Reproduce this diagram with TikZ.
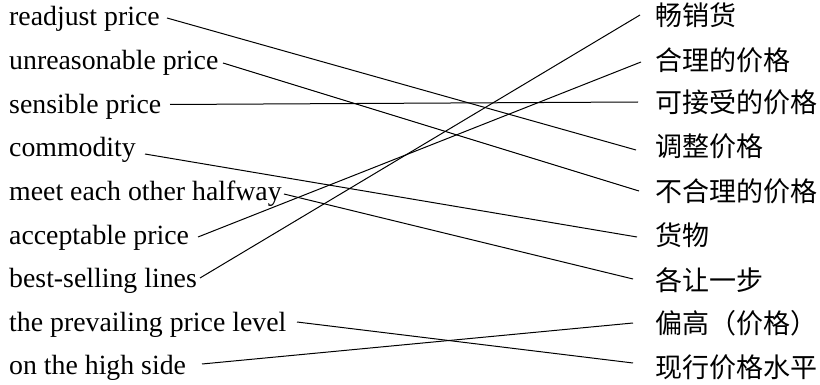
\documentclass[tikz,border=0pt]{standalone}
\usepackage{fontspec}
\setmainfont{Liberation Serif}
\newfontfamily\cjk{Noto Sans CJK SC}
\begin{document}
\begin{tikzpicture}[x=1pt,y=-1pt,
  en/.style={anchor=base west,inner sep=0pt,font=\fontsize{27.8}{30}\selectfont},
  zh/.style={anchor=base west,inner sep=0pt,font=\cjk\fontsize{27}{30}\selectfont},
  link/.style={line width=1pt}]
\useasboundingbox (0,0) rectangle (820,385);
% English terms
\node[en] (e1) at (9,26)    {readjust price};
\node[en] (e2) at (9,69.6)  {unreasonable price};
\node[en] (e3) at (9,113.2) {sensible price};
\node[en] (e4) at (9,156.8) {commodity};
\node[en] (e5) at (9,200.4) {meet each other halfway};
\node[en] (e6) at (9,244)   {acceptable price};
\node[en] (e7) at (9,287.6) {best-selling lines};
\node[en] (e8) at (9,331.2) {the prevailing price level};
\node[en] (e9) at (9,374.8) {on the high side};
% Chinese terms
\node[zh] (c1) at (655,26)  {畅销货};
\node[zh] (c2) at (655,71)  {合理的价格};
\node[zh] (c3) at (655,113) {可接受的价格};
\node[zh] (c4) at (655,157) {调整价格};
\node[zh] (c5) at (655,202) {不合理的价格};
\node[zh] (c6) at (655,245) {货物};
\node[zh] (c7) at (655,290) {各让一步};
\node[zh] (c8) at (655,333) {偏高（价格）};
\node[zh] (c9) at (655,377) {现行价格水平};
% line ends beside the English terms
\coordinate (p1) at (167,18);
\coordinate (p2) at (223,63);
\coordinate (p3) at (170,104.5);
\coordinate (p4) at (145,154);
\coordinate (p5) at (284,194);
\coordinate (p6) at (198,237);
\coordinate (p7) at (200,278);
\coordinate (p8) at (297,322);
\coordinate (p9) at (202,364);
% line ends beside the Chinese terms
\coordinate (q1) at (640,15);
\coordinate (q2) at (641,62);
\coordinate (q3) at (638,102);
\coordinate (q4) at (636,150);
\coordinate (q5) at (639,191);
\coordinate (q6) at (637,237);
\coordinate (q7) at (633,279);
\coordinate (q8) at (633,323);
\coordinate (q9) at (633,363);
% matching pairs
\draw[link] (p1) -- (q4);
\draw[link] (p2) -- (q5);
\draw[link] (p3) -- (q3);
\draw[link] (p4) -- (q6);
\draw[link] (p5) -- (q7);
\draw[link] (p6) -- (q2);
\draw[link] (p7) -- (q1);
\draw[link] (p8) -- (q9);
\draw[link] (p9) -- (q8);
\end{tikzpicture}
\end{document}
